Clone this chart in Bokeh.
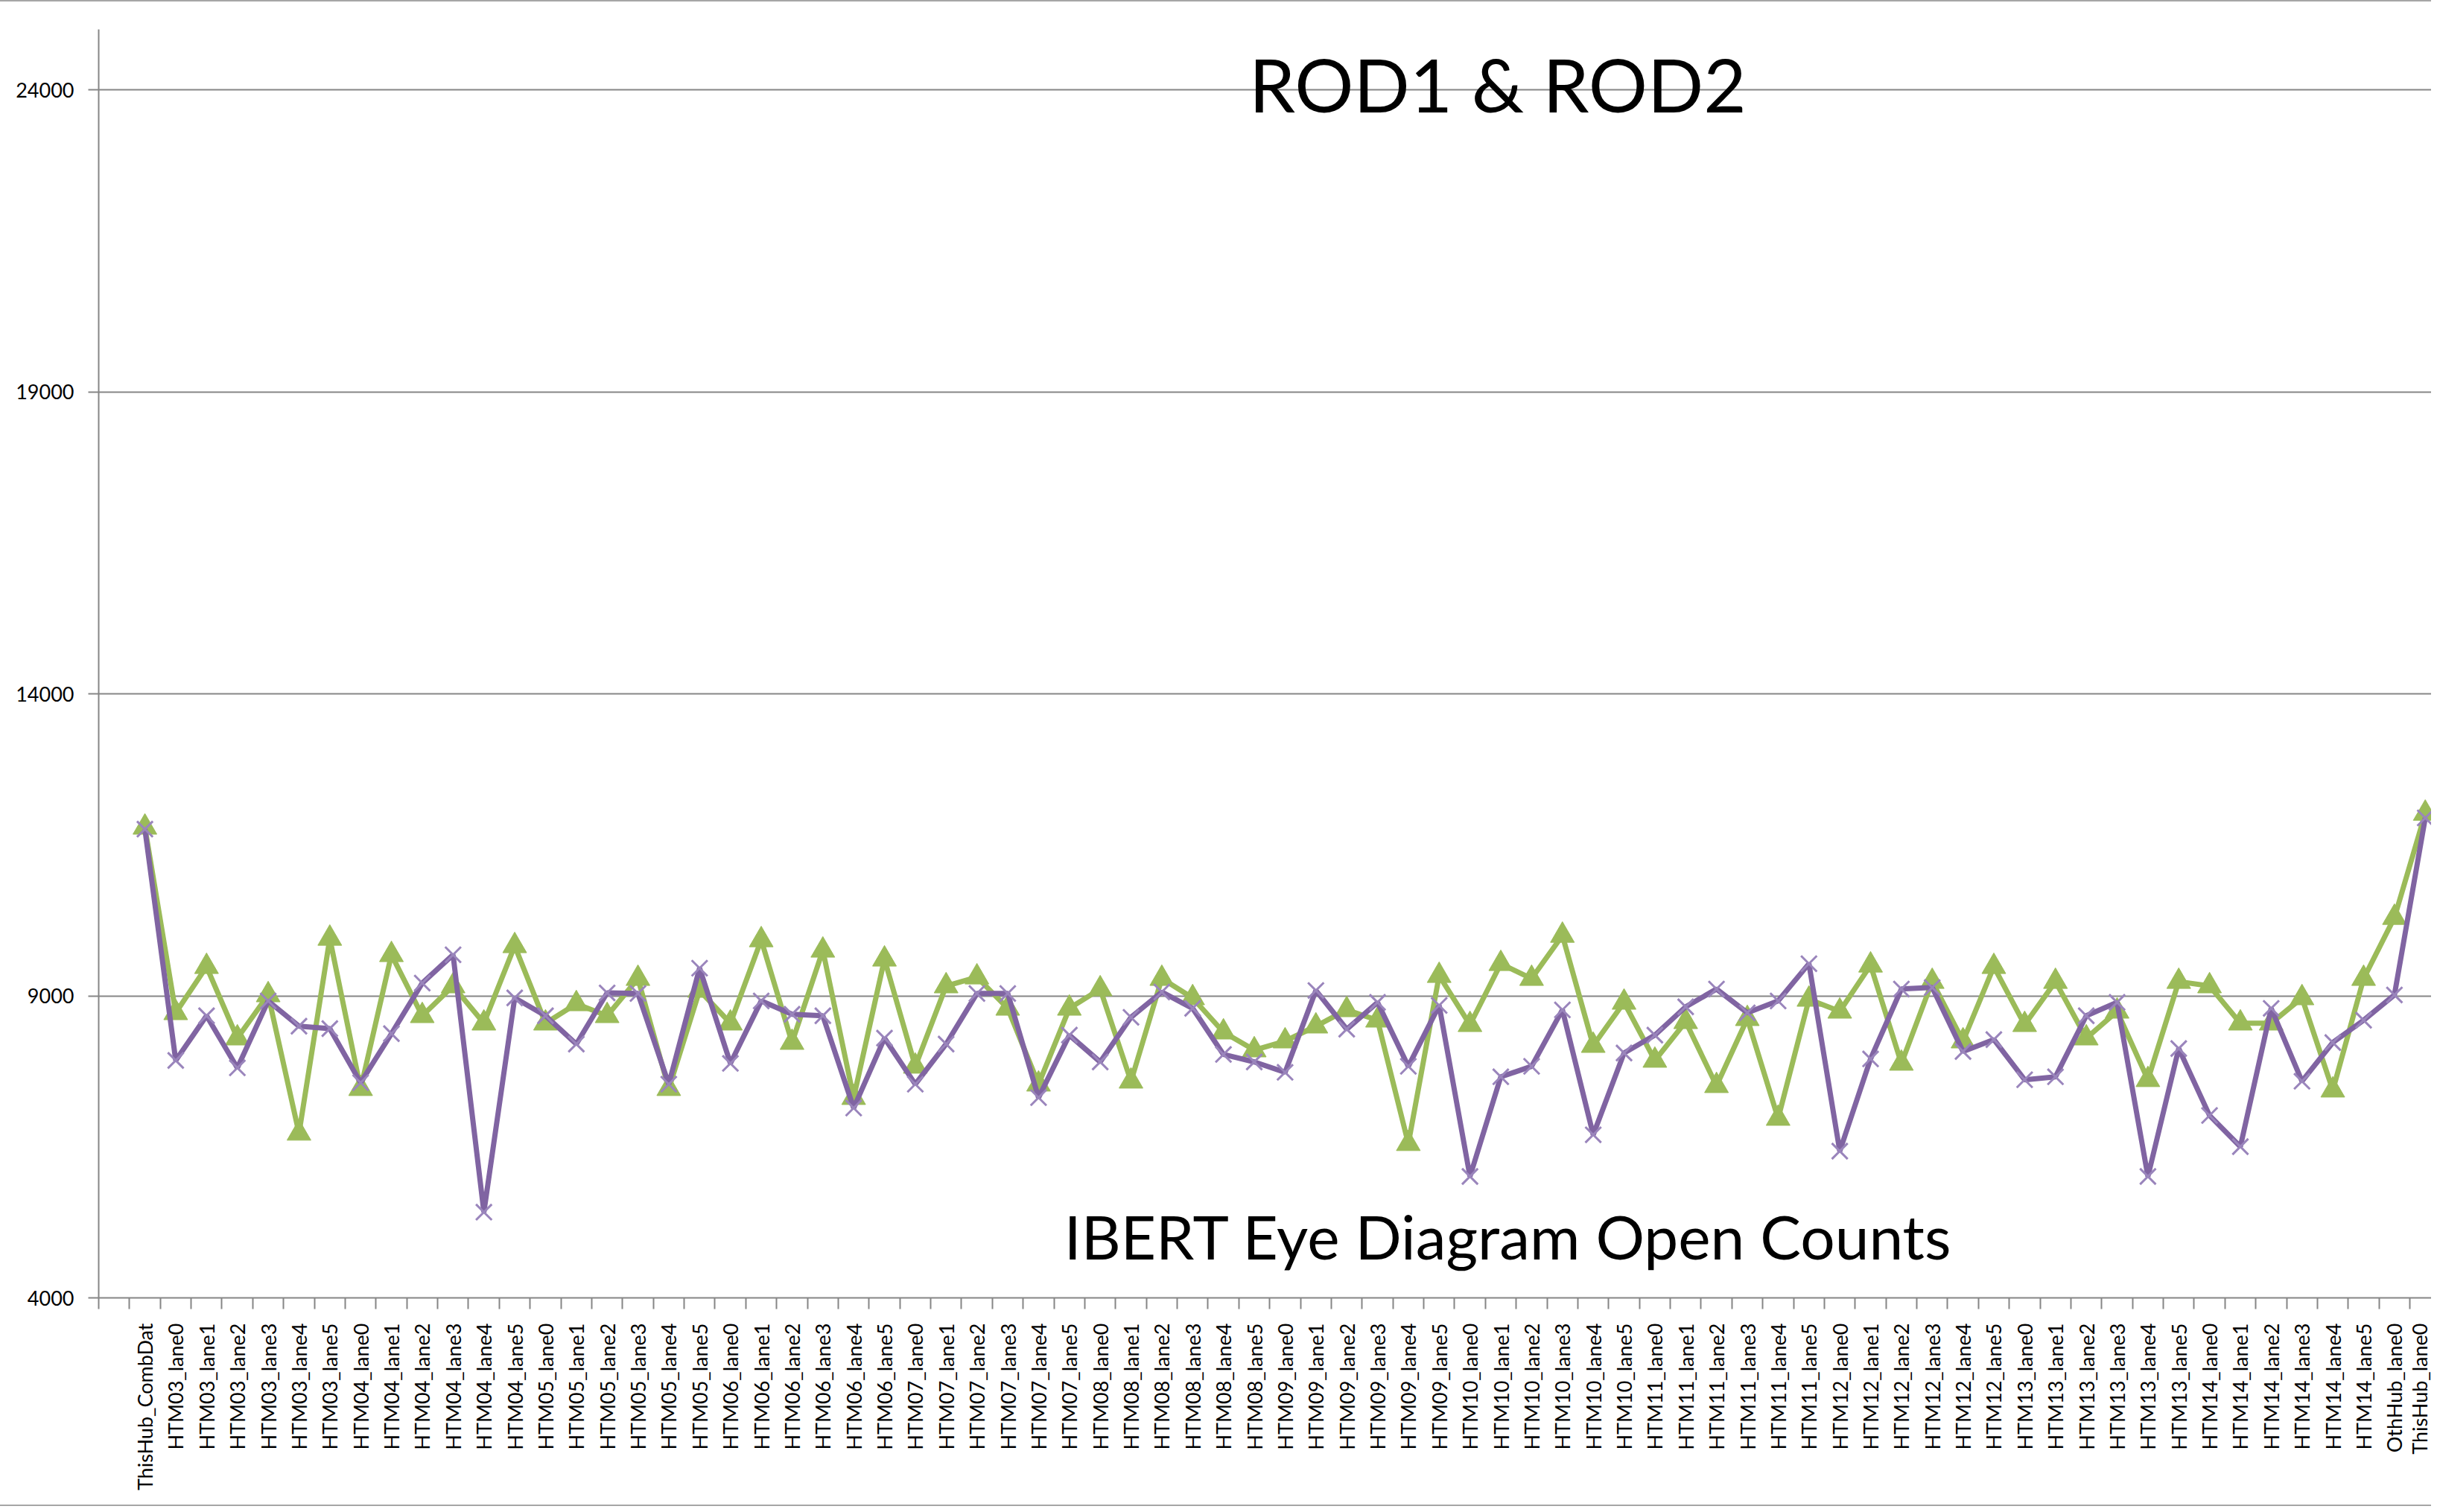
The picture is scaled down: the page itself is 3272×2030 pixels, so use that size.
import math
from bokeh.plotting import figure
from bokeh.models import FixedTicker, Label, Range1d
from bokeh.embed import file_html
from bokeh.resources import INLINE

# ---- data ----
modules = ["HTM03", "HTM04", "HTM05", "HTM06", "HTM07", "HTM08",
           "HTM09", "HTM10", "HTM11", "HTM12", "HTM13", "HTM14"]
lanes = ["lane0", "lane1", "lane2", "lane3", "lane4", "lane5"]
categories = (["ThisHub_CombDat"]
              + [f"{m}_{l}" for m in modules for l in lanes]
              + ["OthHub_lane0", "ThisHub_lane0"])

rod_green = [11790, 8719, 9483, 8300, 9015, 6724, 9951, 7463, 9680, 8670,
             9163, 8547, 9828, 8547, 8867, 8670, 9286, 7463, 9089, 8547,
             9926, 8227, 9754, 7315, 9606, 7833, 9163, 9310, 8793, 7537,
             8793, 9113, 7586, 9286, 8966, 8399, 8103, 8251, 8498, 8768,
             8596, 6552, 9335, 8522, 9532, 9286, 10000, 8177, 8892, 7931,
             8571, 7512, 8621, 6970, 8941, 8744, 9507, 7882, 9236, 8251,
             9483, 8522, 9236, 8300, 8744, 7611, 9236, 9163, 8547, 8547,
             8966, 7438, 9286, 10296, 12020]

rod_purple = [11760, 7931, 8670, 7808, 8916, 8498, 8458, 7562, 8374, 9212,
              9680, 5419, 8966, 8670, 8202, 9049, 9039, 7537, 9458, 7882,
              8916, 8695, 8670, 7143, 8300, 7537, 8202, 9039, 9039, 7315,
              8350, 7906, 8645, 9064, 8793, 8030, 7906, 7734, 9089, 8448,
              8892, 7833, 8842, 6010, 7660, 7833, 8768, 6700, 8054, 8350,
              8818, 9113, 8719, 8916, 9532, 6429, 7956, 9113, 9138, 8079,
              8276, 7611, 7660, 8670, 8892, 6010, 8128, 7020, 6503, 8793,
              7586, 8227, 8596, 9015, 11946]

y_ticks = [4000, 9000, 14000, 19000, 24000]

# ---- figure ----
xs = list(range(1, len(categories) + 1))
FONT = "Lato"
AXIS_COL = "#868686"

p = figure(width=3264, height=2022,
           x_range=Range1d(-0.5, 75.2), y_range=Range1d(4000, 25000),
           output_backend="svg", toolbar_location=None,
           min_border_left=132, min_border_top=37,
           min_border_bottom=282, min_border_right=0)
p.styles = {"border-top": "2px solid #a6a6a6", "border-bottom": "2px solid #a6a6a6"}
p.outline_line_color = None
p.background_fill_color = "white"
p.border_fill_color = "white"

# x axis: labels at category centres, small ticks between categories
xt = FixedTicker(ticks=xs, minor_ticks=[i - 0.5 for i in range(0, len(categories) + 2)])
p.xaxis.ticker = xt
p.xaxis.major_label_overrides = {x: c for x, c in zip(xs, categories)}
p.xaxis.major_label_orientation = math.pi / 2
p.xaxis.major_tick_out = 0
p.xaxis.major_tick_in = 0
p.xaxis.minor_tick_out = 15
p.xaxis.minor_tick_in = 0
p.xaxis.minor_tick_line_color = AXIS_COL
p.xaxis.minor_tick_line_width = 2
p.xaxis.major_label_standoff = 19
p.xaxis.major_label_text_font = FONT
p.xaxis.major_label_text_font_size = "27px"
p.xaxis.major_label_text_color = "black"
p.xaxis.axis_line_color = AXIS_COL
p.xaxis.axis_line_width = 2
p.xgrid.visible = False

yt = FixedTicker(ticks=y_ticks, minor_ticks=[])
p.yaxis.ticker = yt
p.ygrid.ticker = yt
p.yaxis.major_tick_out = 14
p.yaxis.major_tick_in = 0
p.yaxis.minor_tick_out = 0
p.yaxis.minor_tick_in = 0
p.yaxis.major_tick_line_color = AXIS_COL
p.yaxis.major_tick_line_width = 2
p.yaxis.major_label_standoff = 19
p.yaxis.major_label_text_font = FONT
p.yaxis.major_label_text_font_size = "27px"
p.yaxis.major_label_text_color = "black"
p.yaxis.axis_line_color = AXIS_COL
p.yaxis.axis_line_width = 2
p.ygrid.grid_line_color = AXIS_COL
p.ygrid.grid_line_width = 2

# series
GREEN = "#9BBB59"
PURPLE = "#8064A2"
p.line(xs, rod_green, line_color=GREEN, line_width=7)
p.scatter(xs, rod_green, marker="triangle", size=32,
          fill_color=GREEN, line_color=GREEN)
p.line(xs, rod_purple, line_color=PURPLE, line_width=7)
p.scatter(xs, rod_purple, marker="x", size=30,
          line_color="#9A85BC", line_width=3)

# text boxes
p.add_layout(Label(x=44.9, y=24100, text="ROD1 & ROD2",
                   text_align="center", text_baseline="alphabetic",
                   text_font=FONT, text_font_size="99px", text_color="black"))
p.add_layout(Label(x=45.25, y=5030, text="IBERT Eye Diagram Open Counts",
                   text_align="center", text_baseline="alphabetic",
                   text_font=FONT, text_font_size="82px", text_color="black"))

open("out.html", "w").write(file_html(p, INLINE))
